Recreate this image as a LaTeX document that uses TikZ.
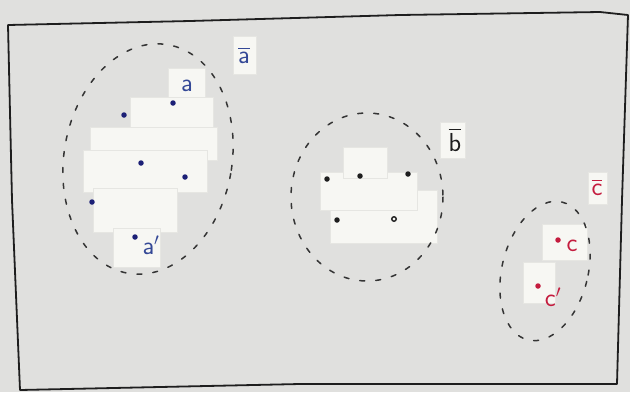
\documentclass[tikz,border=0pt]{standalone}
\usepackage{amsmath}
\usepackage{tikz}
\usetikzlibrary{positioning}
\definecolor{PaperGray}{RGB}{224,224,222}
\definecolor{NoteWhite}{RGB}{247,247,243}
\definecolor{InkBlack}{RGB}{30,30,30}
\definecolor{InkBlue}{RGB}{28,32,118}
\definecolor{PenBlue}{RGB}{52,72,150}
\definecolor{InkRed}{RGB}{196,28,62}
\tikzset{
  note/.style={fill=NoteWhite,draw=NoteWhite!93!black,line width=0.3pt},
  cluster/.style={InkBlack!90,line width=1.5pt,line cap=round,dash pattern=on 5pt off 11pt},
  dotpt/.style={circle,inner sep=0pt,minimum size=5.5pt},
  lab/.style={font=\sffamily\fontsize{26}{28}\selectfont,inner sep=1pt},
}

\begin{document}
\begin{tikzpicture}[x=1pt,y=-1pt]
  \fill[PaperGray] (0,0) rectangle (630,392);
  \useasboundingbox (0,0) rectangle (630,392);

  % sheet border
  \draw[InkBlack,line width=1.8pt,line join=round]
    (8,25) -- (190,21) -- (400,15) -- (600,12) -- (628,15)
    -- (622,200) -- (617,384) -- (300,384) -- (20,390) -- (12,200) -- cycle;

  % notes under cluster a
  \fill[note] (168,68) rectangle (205,110);
  \fill[note] (130,97) rectangle (213,128);
  \fill[note] (90,127) rectangle (217,160);
  \fill[note] (83,150) rectangle (207,192);
  \fill[note] (93,188) rectangle (177,232);
  \fill[note] (113,228) rectangle (160,267);
  \fill[note] (233,36) rectangle (256,74);
  % notes under cluster b
  \fill[note] (330,190) rectangle (437,243);
  \fill[note] (320,172) rectangle (417,210);
  \fill[note] (343,147) rectangle (387,178);
  \fill[note] (440,122) rectangle (465,158);
  % notes under cluster c
  \fill[note] (542,224) rectangle (587,260);
  \fill[note] (523,262) rectangle (555,303);
  \fill[note] (588,172) rectangle (607,204);

  % dashed clusters
  \draw[cluster,rotate around={-10:(148,159)}] (148,159) ellipse [x radius=84,y radius=116];
  \draw[cluster] (367,197) ellipse [x radius=76,y radius=84];
  \draw[cluster,rotate around={-14:(545,271)}] (545,271) ellipse [x radius=43,y radius=71];

  % cluster a
  \node[dotpt,fill=InkBlue] (a1) at (173,103) {};
  \node[dotpt,fill=InkBlue] (a2) at (124,115) {};
  \node[dotpt,fill=InkBlue] (a3) at (141,163) {};
  \node[dotpt,fill=InkBlue] (a4) at (185,177) {};
  \node[dotpt,fill=InkBlue] (a5) at (92,202) {};
  \node[dotpt,fill=InkBlue] (a6) at (135,237) {};
  \node[lab,PenBlue] (la) at (187,86) {a};
  \node[lab,PenBlue] (lap) at (151,245) {a$'$};
  \node[lab,PenBlue] (abar) at (244,55) {$\overline{\text{a}}$};

  % cluster b
  \node[dotpt,fill=InkBlack] (b1) at (327,179) {};
  \node[dotpt,fill=InkBlack] (b2) at (360,176) {};
  \node[dotpt,fill=InkBlack] (b3) at (408,174) {};
  \node[dotpt,fill=InkBlack] (b4) at (337,220) {};
  \node[dotpt,draw=InkBlack,line width=1.4pt,minimum size=4.5pt] (b5) at (394,219) {};
  \node[lab,InkBlack] (bbar) at (455,140) {$\overline{\text{b}}$};

  % cluster c
  \node[dotpt,fill=InkRed] (c1) at (558,240) {};
  \node[dotpt,fill=InkRed] (c2) at (538,286) {};
  \node[lab,InkRed] (lc) at (572,246) {c};
  \node[lab,InkRed] (lcp) at (553,297) {c$'$};
  \node[lab,InkRed] (cbar) at (597,187) {$\overline{\text{c}}$};
\end{tikzpicture}
\end{document}
